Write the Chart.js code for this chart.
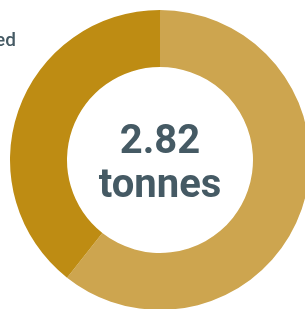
<!DOCTYPE html>
<html>
<head>
<meta charset="utf-8">
<script src="https://cdn.jsdelivr.net/npm/chart.js@4.4.1/dist/chart.umd.min.js"></script>
<style>
    html, body { margin: 0; padding: 0; background: #fff; overflow: hidden; width: 305px; height: 309px; }
    #wrap { position: relative; width: 305px; height: 309px; overflow: hidden; }
    #grafico { position: absolute; left: 0; top: 0; }
    #leyenda {
        position: absolute; left: -184px; top: 28px; width: 200px; text-align: right;
        font-family: Roboto, sans-serif; font-size: 19px; font-weight: 500; color: #455A64; white-space: nowrap;
    }
</style>
</head>
<body>
<div id="wrap">
    <canvas id="grafico" width="320" height="320"></canvas>
    <div id="leyenda">Composted</div>
</div>
<script>
const categorias = ['Recycled', 'Composted'];
const valores = [1.71, 1.11];
const colores = ['#CDA54F', '#BE8C13'];
const totalTexto = '2.82';
const unidadTexto = 'tonnes';

const textoCentro = {
    id: 'textoCentro',
    afterDraw(chart) {
        const ctx = chart.ctx;
        const meta = chart.getDatasetMeta(0).data[0];
        const x = meta.x;
        const y = meta.y;
        ctx.save();
        ctx.fillStyle = '#455A64';
        ctx.textAlign = 'center';
        ctx.textBaseline = 'alphabetic';
        ctx.font = 'bold 40px Roboto';
        ctx.fillText(totalTexto, x, y - 7);
        ctx.fillText(unidadTexto, x, y + 37);
        ctx.restore();
    }
};

new Chart(document.getElementById('grafico'), {
    type: 'doughnut',
    data: {
        labels: categorias,
        datasets: [{
            data: valores,
            backgroundColor: colores,
            borderWidth: 0
        }]
    },
    options: {
        responsive: false,
        animation: false,
        devicePixelRatio: 1,
        cutout: '62%',
        layout: { padding: 10 },
        plugins: {
            legend: { display: false },
            tooltip: { enabled: false }
        }
    },
    plugins: [textoCentro]
});
</script>
</body>
</html>
